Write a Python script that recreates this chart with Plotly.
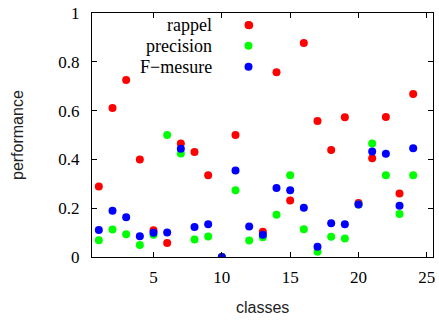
import plotly.graph_objects as go

classes = list(range(1, 25))
rappel = [0.289, 0.611, 0.725, 0.40, 0.11, 0.057, 0.465, 0.43, 0.335, 0.0, 0.50, 0.95,
          0.103, 0.757, 0.232, 0.877, 0.557, 0.439, 0.573, 0.221, 0.405, 0.574, 0.26, 0.668]
precision = [0.069, 0.113, 0.093, 0.049, 0.091, 0.50, 0.424, 0.072, 0.084, 0.0, 0.274, 0.068,
             0.081, 0.173, 0.335, 0.114, 0.022, 0.083, 0.076, 0.215, 0.465, 0.335, 0.176, 0.335]
fmesure = [0.111, 0.19, 0.163, 0.085, 0.099, 0.10, 0.444, 0.123, 0.134, 0.0, 0.354, 0.125,
           0.091, 0.283, 0.274, 0.202, 0.042, 0.138, 0.134, 0.215, 0.432, 0.423, 0.21, 0.446]

series = [("rappel", rappel, "#ff0000"),
          ("precision", precision, "#00ff00"),
          ("F\u2212mesure", fmesure, "#0000ff")]

x_ticks = [5, 10, 15, 20, 25]
y_ticks = [0, 0.2, 0.4, 0.6, 0.8, 1]
y_ticktext = ["0", "0.2", "0.4", "0.6", "0.8", "1"]

fig = go.Figure()
for name, vals, col in series:
    fig.add_trace(go.Scatter(x=classes, y=vals, mode="markers", name=name,
                             marker=dict(color=col, size=8, line=dict(width=0)),
                             showlegend=False))

serif = "Liberation Serif, Times New Roman, serif"
sans = "Liberation Sans, Arial, sans-serif"

# legend (gnuplot style: text right-aligned, sample to the right)
leg_y = [0.951, 0.866, 0.780]
for (name, vals, col), yy in zip(series, leg_y):
    fig.add_annotation(text=name, xref="paper", yref="paper", x=0.353, y=yy,
                       xanchor="right", yanchor="middle", showarrow=False,
                       borderpad=0, borderwidth=0,
                       font=dict(family=serif, size=18, color="black"))
    fig.add_shape(type="circle", xref="paper", yref="paper",
                  xsizemode="pixel", ysizemode="pixel",
                  xanchor=0.459, yanchor=yy, x0=-4, x1=4, y0=-4, y1=4,
                  fillcolor=col, line=dict(width=0))

fig.add_annotation(text="performance", xref="paper", yref="paper", x=0, y=0.5,
                   xshift=-75, textangle=-90, showarrow=False,
                   xanchor="center", yanchor="middle",
                   font=dict(family=sans, size=16, color="#222"))
fig.add_annotation(text="classes", xref="paper", yref="paper", x=0.5, y=0,
                   yshift=-50, showarrow=False, xanchor="center", yanchor="middle",
                   font=dict(family=sans, size=16, color="#222"))

fig.update_xaxes(range=[0.5, 25.45], tickvals=x_ticks, ticks="inside", ticklen=5,
                 tickcolor="black", showline=True, linecolor="black", linewidth=1,
                 mirror="ticks", showgrid=False, zeroline=False,
                 tickfont=dict(family=serif, size=17, color="black"), ticklabelstandoff=5)
fig.update_yaxes(range=[0, 1], tickvals=y_ticks, ticktext=y_ticktext, ticks="inside",
                 ticklen=5, tickcolor="black", showline=True, linecolor="black",
                 linewidth=1, mirror="ticks", showgrid=False, zeroline=False,
                 tickfont=dict(family=serif, size=17, color="black"), ticklabelstandoff=8)

fig.update_layout(width=439, height=320, margin=dict(l=92, r=4, t=11, b=63),
                  plot_bgcolor="white", paper_bgcolor="white")

fig.write_html("out.html")
